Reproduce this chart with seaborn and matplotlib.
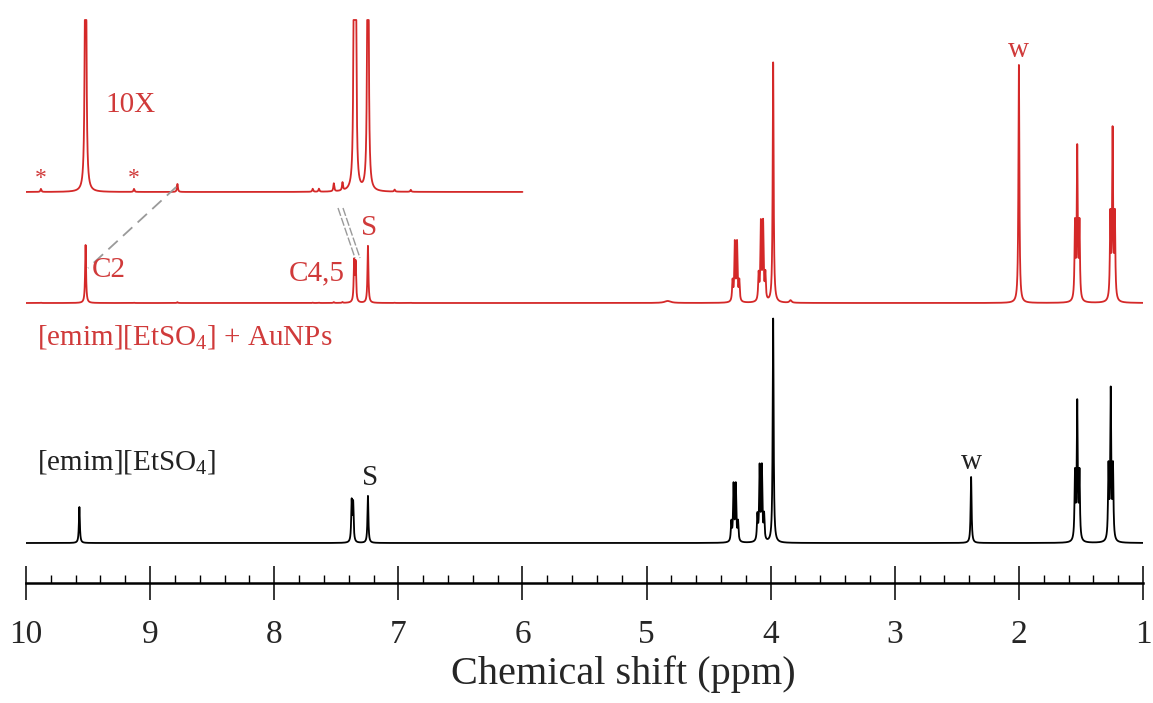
import numpy as np
import matplotlib.pyplot as plt
import seaborn as sns
from matplotlib.ticker import MultipleLocator, FixedLocator

sns.set_theme(style="white")
plt.rcParams['font.family'] = ['Liberation Serif', 'DejaVu Serif']
plt.rcParams['mathtext.fontset'] = 'custom'
plt.rcParams['mathtext.rm'] = 'Liberation Serif'
plt.rcParams['mathtext.default'] = 'regular'

# ---- peak tables (ppm, height above own baseline, half width in ppm)
pure_ppm = [9.57, 7.376, 7.364, 7.245,
            4.317, 4.299, 4.281, 4.263,
            4.107, 4.089, 4.071, 4.053,
            3.980, 2.385,
            1.548, 1.530, 1.512,
            1.278, 1.260, 1.242]
pure_height = [36, 40, 38, 47,
               19, 56, 56, 19,
               25, 73, 73, 25,
               224, 66,
               66, 136, 66,
               72, 148, 72]
pure_width = [0.0045] * len(pure_ppm)

aunp_ppm = [9.88, 9.52, 9.13, 8.78, 7.69, 7.64, 7.52, 7.45, 7.356, 7.344, 7.245, 7.03, 6.90,
            4.83,
            4.307, 4.289, 4.271, 4.253,
            4.097, 4.079, 4.061, 4.043,
            3.980, 3.84, 2.000,
            1.548, 1.530, 1.512,
            1.263, 1.245, 1.227]
aunp_height = [0.3, 58, 0.3, 0.8, 0.3, 0.3, 0.8, 0.8, 40, 38, 57, 0.2, 0.2,
               2,
               20, 58, 58, 20,
               26, 77, 77, 26,
               240, 2.5, 238,
               75, 150, 75,
               83, 167, 83]
aunp_width = [0.0045] * len(aunp_ppm)
aunp_width[13] = 0.03   # broad bump near 4.8 ppm
aunp_width[23] = 0.01

inset_gain = 10
inset_cap = 172          # the 10X trace is cut at the top of the figure
inset_range = (10.0, 6.0)

# ---- layout (vertical offsets in axis units, text colours)
pure_base = 40
aunp_base = 280
inset_base = 391
red = '#d42828'
red_text = '#d03a3a'
guide = '#9a9a9a'


def spectrum(grid, centres, heights, widths):
    y = np.zeros_like(grid)
    for c, h, w in zip(centres, heights, widths):
        y += h / (1.0 + ((grid - c) / w) ** 2)
    return y


ppm = np.linspace(10, 1, 18001)
pure = spectrum(ppm, pure_ppm, pure_height, pure_width)
aunp = spectrum(ppm, aunp_ppm, aunp_height, aunp_width)
sel = (ppm <= inset_range[0]) & (ppm >= inset_range[1])
inset = np.minimum(aunp[sel] * inset_gain, inset_cap)

fig = plt.figure(figsize=(11.53, 7.03), dpi=100)
ax = fig.add_axes([26 / 1153, 120 / 703, 1117 / 1153, 583 / 703])

sns.lineplot(x=ppm, y=pure + pure_base, ax=ax, color='black', lw=1.3,
             estimator=None, sort=False)
sns.lineplot(x=ppm, y=aunp + aunp_base, ax=ax, color=red, lw=1.3,
             estimator=None, sort=False)
sns.lineplot(x=ppm[sel], y=inset + inset_base, ax=ax, color=red, lw=1.3,
             estimator=None, sort=False)

# guide lines from the 10X trace down to the peaks
ax.plot([8.79, 9.50], [396, 315], color=guide, lw=1.3, ls=(0, (7, 4)))
ax.plot([7.486, 7.349], [375, 325], color=guide, lw=1.0, ls=(0, (6, 1.5)))
ax.plot([7.446, 7.309], [375, 325], color=guide, lw=1.0, ls=(0, (6, 1.5)))

fs = 21
ax.text(9.363, 478, '10X', color=red_text, fontsize=fs, va='center', ha='left')
ax.text(9.88, 404, '*', color=red_text, fontsize=17, va='center', ha='center')
ax.text(9.13, 404, '*', color=red_text, fontsize=17, va='center', ha='center')
ax.text(9.468, 313, 'C2', color=red_text, fontsize=fs, va='center', ha='left')
ax.text(7.43, 310, 'C4,5', color=red_text, fontsize=fs, va='center', ha='right')
ax.text(7.236, 355, 'S', color=red_text, fontsize=fs, va='center', ha='center')
ax.text(2.0, 533, 'w', color=red_text, fontsize=fs, va='center', ha='center')
ax.text(9.91, 246, r'[emim][EtSO$_4$] + AuNPs', color=red_text, fontsize=fs,
        va='center', ha='left')
ax.text(9.91, 121, r'[emim][EtSO$_4$]', color='#222222', fontsize=fs,
        va='center', ha='left')
ax.text(7.228, 105, 'S', color='#222222', fontsize=fs, va='center', ha='center')
ax.text(2.385, 121, 'w', color='#222222', fontsize=fs, va='center', ha='center')

ax.set_xlim(10, 1)
ax.set_ylim(0, 583)
ax.xaxis.set_major_locator(FixedLocator(range(1, 11)))
ax.xaxis.set_minor_locator(MultipleLocator(0.2))
ax.set_xticklabels([str(v) for v in range(1, 11)])
ax.set_yticks([])
ax.tick_params(axis='x', which='major', direction='inout', length=25, width=1.1,
               labelsize=24, pad=14, bottom=True, color='black')
ax.tick_params(axis='x', which='minor', direction='in', length=6, width=1.0,
               bottom=True, color='black')
for side in ['left', 'right', 'top']:
    ax.spines[side].set_visible(False)
ax.spines['bottom'].set_linewidth(1.8)
ax.spines['bottom'].set_color('black')
ax.set_xlabel('Chemical shift (ppm)', fontsize=29, labelpad=4)
ax.xaxis.label.set_x(0.5345)
ax.set_facecolor('white')

fig.savefig('out.png', dpi=100)
